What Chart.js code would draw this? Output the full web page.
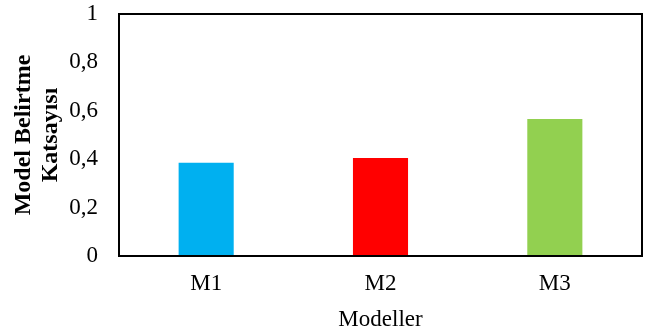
<!DOCTYPE html>
<html>
<head>
<meta charset="utf-8">
<script src="https://cdn.jsdelivr.net/npm/chart.js@4"></script>
<style>
  html, body { margin: 0; padding: 0; background: #fff; }
  #wrap { width: 648px; height: 335px; }
</style>
</head>
<body>
<div id="wrap"><canvas id="chart" width="648" height="335"></canvas></div>
<script>
const categories = ['M1', 'M2', 'M3'];
const values = [0.385, 0.405, 0.566];
const barColors = ['#00B0F0', '#FF0000', '#92D050'];
const yTicks = [0, 0.2, 0.4, 0.6, 0.8, 1];

// draws the black frame round the plot area
const frame = {
    id: 'frame',
    afterDraw(chart) {
        const a = chart.chartArea;
        const ctx = chart.ctx;
        ctx.save();
        ctx.strokeStyle = '#000';
        ctx.lineWidth = 2;
        ctx.strokeRect(a.left, a.top, a.right - a.left, a.bottom - a.top);
        ctx.restore();
    }
};

new Chart(document.getElementById('chart'), {
    type: 'bar',
    data: {
        labels: categories,
        datasets: [{
            data: values,
            backgroundColor: barColors,
            borderWidth: 0,
            barPercentage: 0.316,
            categoryPercentage: 1
        }]
    },
    options: {
        responsive: false,
        animation: false,
        layout: { padding: { top: 14, right: 6, left: 10, bottom: 0 } },
        plugins: { legend: { display: false }, tooltip: { enabled: false } },
        scales: {
            x: {
                afterFit(axis) { axis.height = 79; axis.paddingLeft = 0; axis.paddingRight = 0; },
                grid: { display: false, drawTicks: false },
                border: { display: false },
                ticks: { color: '#000', font: { family: 'Liberation Serif', size: 23 }, padding: 14 },
                title: {
                    display: true, text: 'Modeller', color: '#000',
                    font: { family: 'Liberation Serif', size: 23 }, padding: { top: 0, bottom: 1 }
                }
            },
            y: {
                min: 0, max: 1,
                afterBuildTicks(axis) { axis.ticks = yTicks.map(v => ({ value: v })); },
                afterFit(axis) { axis.width = 109; axis.paddingTop = 0; axis.paddingBottom = 0; },
                grid: { display: false, drawTicks: false },
                border: { display: false },
                ticks: {
                    color: '#000', padding: 21,
                    font: { family: 'Liberation Serif', size: 23 },
                    callback: v => String(v).replace('.', ',')
                },
                title: {
                    display: true, text: ['Model Belirtme', 'Katsayısı'], color: '#000',
                    font: { family: 'Liberation Serif', size: 24, weight: 'bold', lineHeight: 1.12 },
                    padding: { top: 0, bottom: 4 }
                }
            }
        }
    },
    plugins: [frame]
});
</script>
</body>
</html>
